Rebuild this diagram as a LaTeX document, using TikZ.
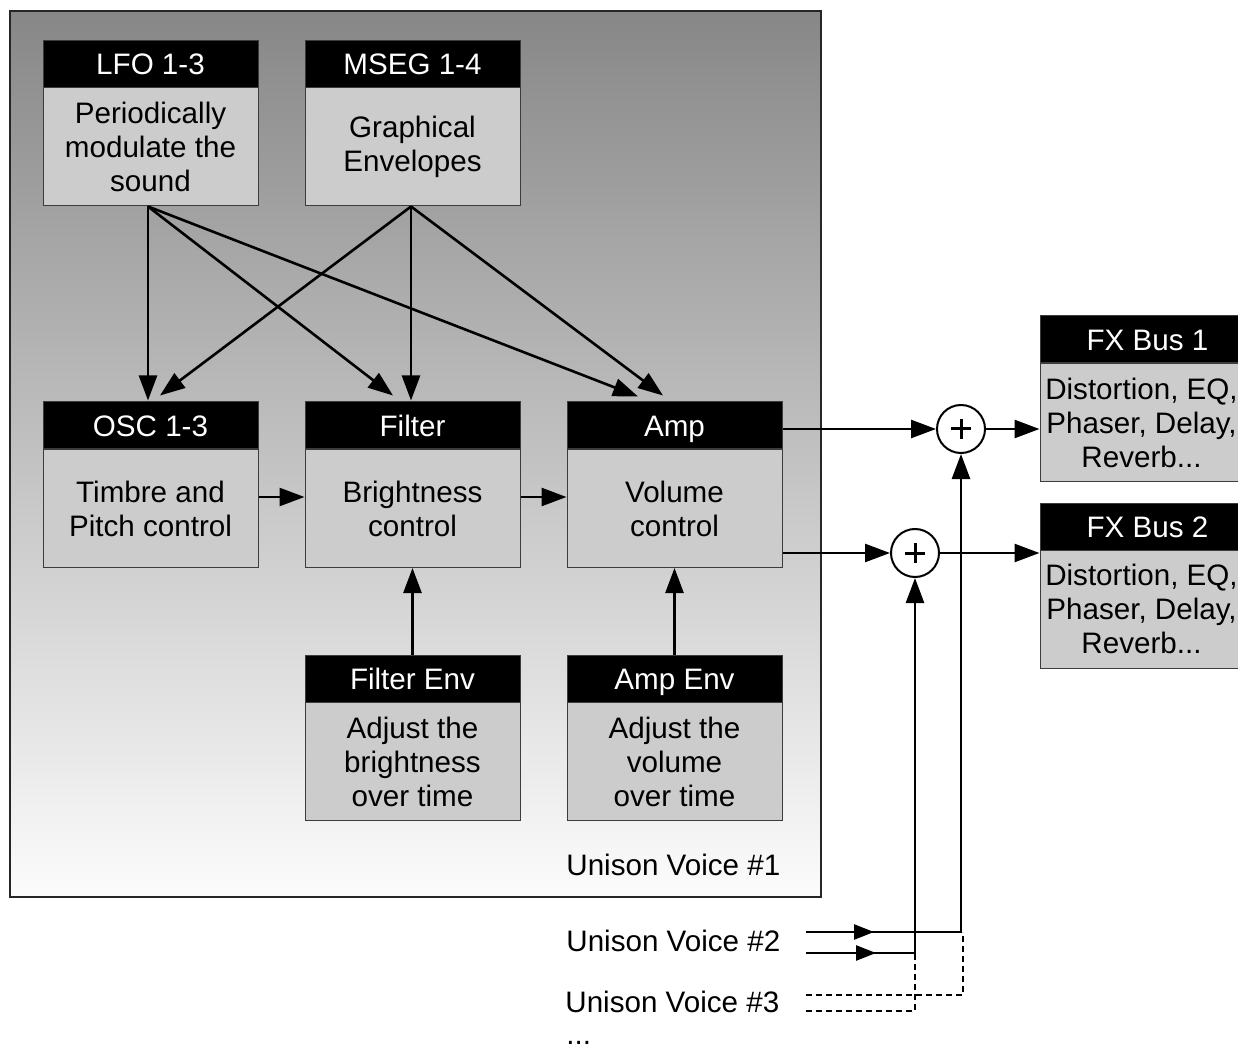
\documentclass[tikz,border=0pt]{standalone}
\usepackage{fontspec}
\setmainfont{Liberation Sans}
\usetikzlibrary{arrows.meta,calc,decorations.markings}
\definecolor{bodyfill}{RGB}{204,204,204}
\definecolor{edge}{RGB}{60,60,60}
\definecolor{gtop}{RGB}{135,135,135}
\definecolor{gbot}{RGB}{252,252,252}
\newcommand\shl{\hspace*{-6pt}}
\begin{document}
\begin{tikzpicture}[x=0.5pt,y=-0.5pt,
  txt/.style={font=\fontsize{14.8}{17}\selectfont},
  hdr/.style={txt, draw=edge, line width=0.5pt, fill=black, text=white,
    minimum width=107.5pt, minimum height=23.5pt, inner sep=0pt,
    text height=10.6pt, text depth=0pt},
  bdy/.style={txt, draw=edge, line width=0.5pt, fill=bodyfill, align=center,
    minimum width=107.5pt, minimum height=59pt, inner sep=0pt},
  arr/.style={line width=1.3pt, -{Triangle[length=12.5pt,width=9pt]}},
  sumc/.style={circle, draw=black, line width=1pt, fill=white, minimum size=24pt,
    inner sep=0pt, path picture={
      \draw[line width=1.5pt] ($(path picture bounding box.center)+(-5pt,0)$) -- ($(path picture bounding box.center)+(5pt,0)$)
        ($(path picture bounding box.center)+(0,-5pt)$) -- ($(path picture bounding box.center)+(0,5pt)$);}},
  lbl/.style={txt, anchor=base west, inner sep=0pt},
  midarrow/.style={postaction={decorate}, decoration={markings,
    mark=at position #1 with {\arrow{Triangle[length=10pt,width=7.5pt]}}}},
  dashline/.style={line width=1.3pt, dash pattern=on 3pt off 2pt}
]
\clip (0,0) rectangle (1238,1048);
\path[fill=white] (0,0) rectangle (1238,1048);

% container
\path[draw=black!85, line width=0.6pt, top color=gtop, bottom color=gbot]
  (10,11) rectangle (821,897);

% modules
\node[hdr] (lfoh) at (150.5,64) {LFO 1-3};
\node[bdy] (lfob) at (150.5,147) {Periodically\\modulate the\\sound};
\node[hdr] (msegh) at (412.5,64) {MSEG 1-4};
\node[bdy] (msegb) at (412.5,147) {Graphical\\Envelopes};

\node[hdr] (osch) at (150.5,425.5) {OSC 1-3};
\node[bdy] (oscb) at (150.5,508.5) {Timbre and\\Pitch control};
\node[hdr] (filterh) at (412.5,425.5) {Filter};
\node[bdy] (filterb) at (412.5,508.5) {Brightness\\control};
\node[hdr] (amph) at (674.5,425.5) {Amp};
\node[bdy] (ampb) at (674.5,508.5) {Volume\\control};

\node[hdr] (fenvh) at (412.5,678.5) {Filter Env};
\node[bdy] (fenvb) at (412.5,761.5) {Adjust the\\brightness\\over time};
\node[hdr] (aenvh) at (674.5,678.5) {Amp Env};
\node[bdy] (aenvb) at (674.5,761.5) {Adjust the\\volume\\over time};

\node[hdr] (fx1h) at (1147.5,339.5) {FX Bus 1};
\node[bdy] (fx1b) at (1147.5,422.5) {\shl Distortion, EQ,\\\shl Phaser, Delay,\\\shl Reverb...};
\node[hdr] (fx2h) at (1147.5,526.5) {FX Bus 2};
\node[bdy] (fx2b) at (1147.5,609) {\shl Distortion, EQ,\\\shl Phaser, Delay,\\\shl Reverb...};

% summing junctions
\node[sumc] (s1) at (961,429) {};
\node[sumc] (s2) at (915,553) {};

% labels
\node[lbl] (uv1) at (566,875.5) {Unison Voice \#1};
\node[lbl] (uv2) at (566,951.5) {Unison Voice \#2};
\node[lbl] (uv3) at (565,1012.5) {Unison Voice \#3};
\node[lbl] (dots) at (566,1044) {...};

% modulation connectors
\coordinate (lfo0) at ($(lfob.south)+(-2.5,0)$);
\coordinate (mseg0) at ($(msegb.south)+(-1.5,0)$);
\draw[arr] (lfo0) -- ($(osch.north)+(-2.5,-1)$);
\draw[arr] (lfo0) -- ($(filterh.north)+(-19.5,-6)$);
\draw[arr] (lfo0) -- ($(amph.north)+(-36.5,-5)$);
\draw[arr] (mseg0) -- ($(osch.north)+(9.5,-6)$);
\draw[arr] (mseg0) -- ($(filterh.north)+(-1.5,-1)$);
\draw[arr] (mseg0) -- ($(amph.north)+(-11.5,-6)$);

% signal chain
\draw[arr] ($(oscb.east)+(0,-11.5)$) -- ($(filterb.west)+(0,-11.5)$);
\draw[arr] ($(filterb.east)+(0,-11.5)$) -- ($(ampb.west)+(0,-11.5)$);
\draw[arr] (fenvh.north) -- (filterb.south);
\draw[arr] (aenvh.north) -- (ampb.south);

% outputs to FX buses
\draw[arr] (amph.east |- s1) -- (s1);
\draw[arr] (s1) -- (s1 -| fx1b.west);
\draw[arr] (ampb.east |- s2) -- (s2);
\draw[arr] (s2) -- (s2 -| fx2b.west);

% other unison voices
\coordinate (u2a) at (806,932);
\coordinate (u2b) at (806,953);
\coordinate (u3a) at (806,995);
\coordinate (u3b) at (806,1011);
\draw[arr, midarrow=34pt] (u2a) -- (s1.south |- u2a) -- (s1.south);
\draw[arr, midarrow=35pt] (u2b) -- (s2.south |- u2b) -- (s2.south);
\draw[dashline] (u3a) -- (963,995) -- (963,932);
\draw[dashline] (u3b) -- (915,1011) -- (915,953);
\end{tikzpicture}
\end{document}
